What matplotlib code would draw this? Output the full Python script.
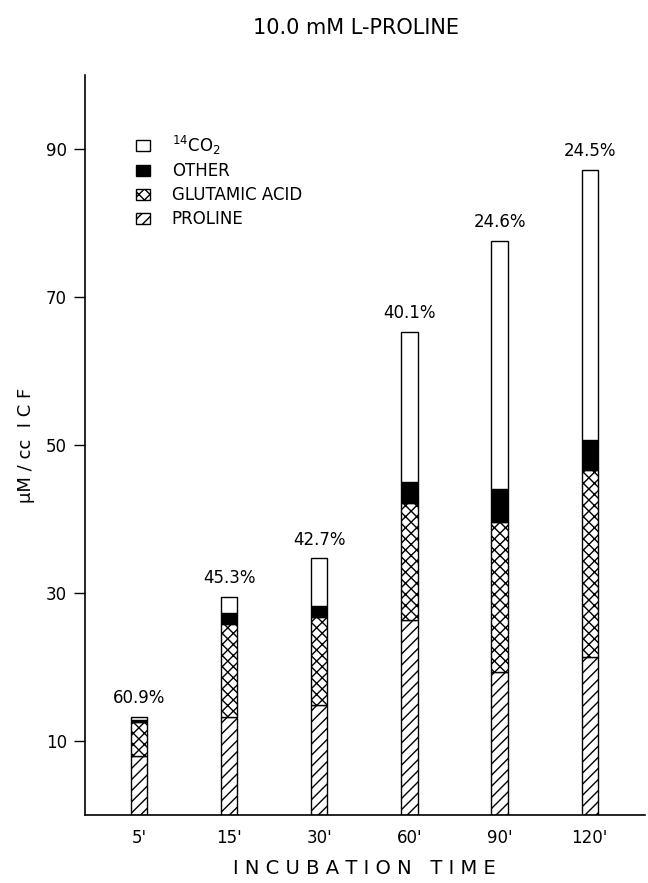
import matplotlib
matplotlib.use("Agg")
import matplotlib.pyplot as plt
from matplotlib.patches import Patch

plt.rcParams['font.family'] = ['DejaVu Sans']
plt.rcParams['hatch.linewidth'] = 1.0

times = ["5'", "15'", "30'", "60'", "90'", "120'"]
proline = [8.0, 13.3, 14.8, 26.4, 19.3, 21.4]
glutamic = [4.6, 12.5, 12.0, 15.7, 20.3, 25.2]
other = [0.2, 1.5, 1.4, 2.9, 4.5, 4.1]
co2 = [0.5, 2.2, 6.5, 20.3, 33.5, 36.5]
pct_labels = ["60.9%", "45.3%", "42.7%", "40.1%", "24.6%", "24.5%"]
yticks = [10, 30, 50, 70, 90]

fig = plt.figure(figsize=(6.48, 8.83), dpi=100)
ax = fig.add_axes([0.131, 0.077, 0.864, 0.838])

x = list(range(len(times)))
w = 0.18
kw = dict(width=w, edgecolor='black', linewidth=1.0)
b1 = [0] * len(x)
ax.bar(x, proline, bottom=b1, color='white', hatch='///', **kw)
b2 = [p for p in proline]
ax.bar(x, glutamic, bottom=b2, color='white', hatch='xxx', **kw)
b3 = [a + b for a, b in zip(b2, glutamic)]
ax.bar(x, other, bottom=b3, color='black', **kw)
b4 = [a + b for a, b in zip(b3, other)]
ax.bar(x, co2, bottom=b4, color='white', **kw)
tops = [a + b for a, b in zip(b4, co2)]

for xi, t, lab in zip(x, tops, pct_labels):
    ax.text(xi, t + 1.3, lab, ha='center', va='bottom', fontsize=12)

ax.set_xlim(-0.6, 5.61)
ax.set_ylim(0, 100)
ax.set_xticks(x)
ax.set_xticklabels(times, fontsize=12)
ax.tick_params(axis='x', length=0, pad=10)
ax.set_yticks(yticks)
ax.set_yticklabels([str(v) for v in yticks], fontsize=12)
ax.tick_params(axis='y', direction='out', length=8, width=1, pad=5)
for s in ['top', 'right']:
    ax.spines[s].set_visible(False)
ax.spines['left'].set_linewidth(1.2)
ax.spines['bottom'].set_linewidth(1.2)

ax.set_ylabel('μM / cc  I C F', fontsize=13, labelpad=8)
ax.set_xlabel('I N C U B A T I O N   T I M E', fontsize=14, labelpad=9)
fig.text(0.55, 0.968, '10.0 mM L-PROLINE', ha='center', va='center', fontsize=15)

handles = [
    Patch(facecolor='white', edgecolor='black', label='$^{14}$CO$_2$'),
    Patch(facecolor='black', edgecolor='black', label='OTHER'),
    Patch(facecolor='white', edgecolor='black', hatch='xxx', label='GLUTAMIC ACID'),
    Patch(facecolor='white', edgecolor='black', hatch='///', label='PROLINE'),
]
ax.legend(handles=handles, loc='upper left', bbox_to_anchor=(0.091, 0.921),
          frameon=False, fontsize=12, handlelength=0.85, handleheight=0.6,
          labelspacing=0.35, handletextpad=1.3, borderpad=0, borderaxespad=0)

fig.savefig('out.png', dpi=100)
